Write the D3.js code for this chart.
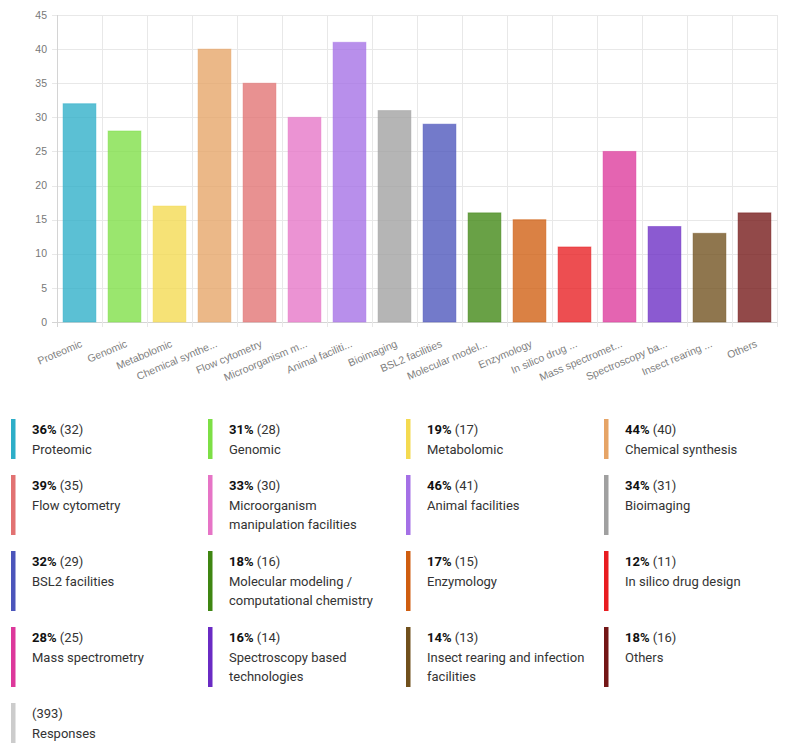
<!DOCTYPE html>
<html>
<head>
<meta charset="utf-8">
<script src="https://cdn.jsdelivr.net/npm/d3@7"></script>
<style>
  html, body { margin: 0; padding: 0; background: #fff; }
  svg { display: block; }
</style>
</head>
<body>
<svg id="chart" width="789" height="755"></svg>
<script>
const categories = ["Proteomic", "Genomic", "Metabolomic", "Chemical synthesis", "Flow cytometry",
  "Microorganism manipulation facilities", "Animal facilities", "Bioimaging", "BSL2 facilities",
  "Molecular modeling / computational chemistry", "Enzymology", "In silico drug design",
  "Mass spectrometry", "Spectroscopy based technologies", "Insect rearing and infection facilities", "Others"];
const tickLabels = ["Proteomic", "Genomic", "Metabolomic", "Chemical synthe...", "Flow cytometry",
  "Microorganism m...", "Animal faciliti...", "Bioimaging", "BSL2 facilities", "Molecular model...",
  "Enzymology", "In silico drug ...", "Mass spectromet...", "Spectroscopy ba...", "Insect rearing ...", "Others"];
const values = [32, 28, 17, 40, 35, 30, 41, 31, 29, 16, 15, 11, 25, 14, 13, 16];
const percents = ["36%", "31%", "19%", "44%", "39%", "33%", "46%", "34%", "32%", "18%", "17%", "12%", "28%", "16%", "14%", "18%"];
const colors = ["#2daec8", "#7ddf45", "#f4da50", "#e6a466", "#e27272", "#e674c6", "#a470e6", "#a0a0a0",
  "#4b55bb", "#3f8612", "#cf5d10", "#e81c20", "#dd389b", "#6a2bc4", "#70501c", "#731616"];
const yTicks = [0, 5, 10, 15, 20, 25, 30, 35, 40, 45];
const totalResponses = 393;

const svg = d3.select("#chart");
const plotLeft = 57, plotRight = 777, plotTop = 15, plotBottom = 322;

const x = d3.scaleBand().domain(d3.range(categories.length)).range([plotLeft, plotRight]).paddingInner(0).paddingOuter(0);
const y = d3.scaleLinear().domain([0, 45]).range([plotBottom, plotTop]);
const bw = x.bandwidth();
const barW = bw * 0.73;

// horizontal gridlines
svg.append("g").selectAll("line").data(yTicks).join("line")
  .attr("x1", plotLeft - 5).attr("x2", plotRight)
  .attr("y1", d => Math.round(y(d)) + 0.5).attr("y2", d => Math.round(y(d)) + 0.5)
  .attr("stroke", d => d === 0 ? "#d4d4d4" : "#e8e8e8").attr("stroke-width", 1);

// vertical gridlines at band boundaries
const bounds = d3.range(categories.length + 1).map(i => i === categories.length ? plotRight : x(i));
svg.append("g").selectAll("line").data(bounds).join("line")
  .attr("x1", d => Math.round(d) + 0.5).attr("x2", d => Math.round(d) + 0.5)
  .attr("y1", plotTop).attr("y2", plotBottom + 5)
  .attr("stroke", (d, i) => i === 0 ? "#d4d4d4" : "#e8e8e8").attr("stroke-width", 1);

// y tick labels
svg.append("g").selectAll("text").data(yTicks).join("text")
  .attr("x", plotLeft - 10).attr("y", d => y(d))
  .attr("dy", "0.35em")
  .attr("text-anchor", "end")
  .attr("font-family", "'Liberation Sans', Arial, sans-serif")
  .attr("font-size", 10.5)
  .attr("fill", "#777")
  .text(d => d);

// bars
svg.append("g").selectAll("rect").data(values).join("rect")
  .attr("x", (d, i) => x(i) + (bw - barW) / 2)
  .attr("width", barW)
  .attr("y", d => y(d))
  .attr("height", d => plotBottom - y(d))
  .attr("fill", (d, i) => colors[i])
  .attr("fill-opacity", 0.78)
  .attr("stroke", (d, i) => colors[i])
  .attr("stroke-opacity", 0.45)
  .attr("stroke-width", 1);

// x tick labels (rotated)
svg.append("g").selectAll("text").data(tickLabels).join("text")
  .attr("transform", (d, i) => `translate(${x(i) + bw / 2 + 2},${plotBottom + 21}) rotate(-23)`)
  .attr("text-anchor", "end")
  .attr("dy", "0.35em")
  .attr("font-family", "'Liberation Sans', Arial, sans-serif")
  .attr("font-size", 10.5)
  .attr("fill", "#808080")
  .text(d => d);

// legend
const legendItems = categories.map((c, i) => ({ pct: percents[i], count: values[i], label: c, color: colors[i] }));
legendItems.push({ pct: "", count: totalResponses, label: "Responses", color: "#cccccc" });

const colX = [11, 208, 406, 604];
const textOff = 21;
const maxW = 162;
const lg = svg.append("g").attr("font-family", "Roboto, 'Noto Sans', sans-serif").attr("font-size", 13);

function wrapLines(text) {
  const tmp = lg.append("text").attr("visibility", "hidden");
  const words = text.split(" ");
  const lines = [];
  let cur = "";
  words.forEach(w => {
    const test = cur ? cur + " " + w : w;
    tmp.text(test);
    if (tmp.node().getComputedTextLength() > maxW && cur) {
      lines.push(cur);
      cur = w;
    } else cur = test;
  });
  if (cur) lines.push(cur);
  tmp.remove();
  return lines;
}
legendItems.forEach(it => it.lines = wrapLines(it.label));

let rowTop = 419;
for (let r = 0; r * 4 < legendItems.length; r++) {
  const row = legendItems.slice(r * 4, r * 4 + 4);
  const nLines = d3.max(row, d => d.lines.length);
  const h = 20 + 20 * nLines;
  row.forEach((it, c) => {
    const gx = colX[c];
    const g = lg.append("g");
    g.append("rect").attr("x", gx).attr("y", rowTop).attr("width", 4.5).attr("height", h).attr("fill", it.color);
    const t1 = g.append("text").attr("x", gx + textOff).attr("y", rowTop + 15);
    if (it.pct) {
      t1.append("tspan").attr("font-weight", "bold").attr("fill", "#111").text(it.pct);
      t1.append("tspan").attr("fill", "#333").text(" (" + it.count + ")");
    } else {
      t1.append("tspan").attr("fill", "#333").text("(" + it.count + ")");
    }
    it.lines.forEach((ln, k) => {
      g.append("text").attr("x", gx + textOff).attr("y", rowTop + 35 + 19 * k)
        .attr("fill", "#333").text(ln);
    });
  });
  rowTop += h + 16;
}
</script>
</body>
</html>
